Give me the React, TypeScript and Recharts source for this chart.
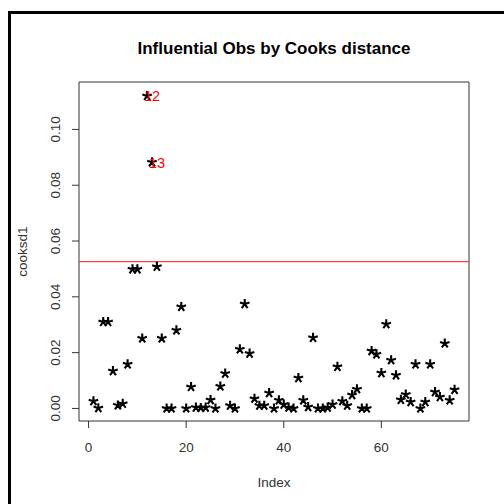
import React from "react";
import { ScatterChart, Scatter, XAxis, YAxis, ReferenceLine, ReferenceArea } from "recharts";

const cooksd: number[] = [
  0.0026, 0.0001, 0.031, 0.031, 0.0134, 0.0011, 0.0017, 0.0158, 0.0499, 0.0499,
  0.0251, 0.112, 0.0882, 0.0508, 0.0251, 0.0, 0.0, 0.028, 0.0364, 0.0,
  0.0077, 0.0003, 0.0002, 0.0003, 0.003, 0.0, 0.0079, 0.0125, 0.001, 0.0,
  0.0212, 0.0374, 0.0197, 0.0035, 0.001, 0.001, 0.0055, 0.0, 0.0029, 0.0014,
  0.0003, 0.0, 0.0109, 0.0029, 0.0005, 0.0253, 0.0, 0.0, 0.0003, 0.0014,
  0.0149, 0.0026, 0.001, 0.0048, 0.0069, 0.0, 0.0, 0.0206, 0.0194, 0.0127,
  0.0302, 0.0173, 0.0119, 0.0031, 0.005, 0.0023, 0.0158, 0.0, 0.0023, 0.0158,
  0.0059, 0.0041, 0.0233, 0.0029, 0.0067,
];
const indices: number[] = cooksd.map((_, i) => i + 1);
const threshold = 0.0526;
const labeledIdx: number[] = [12, 13];
const xTicks: number[] = [0, 20, 40, 60];
const yTicks: number[] = [0, 0.02, 0.04, 0.06, 0.08, 0.1];
const xDomain: [number, number] = [-1.96, 77.96];
const yDomain: [number, number] = [-0.0045, 0.117];

const points = cooksd.map((v, i) => ({ idx: indices[i], v }));
const labelPoints = labeledIdx.map((i) => ({ idx: i + 1, v: cooksd[i - 1], text: String(i) }));

const FONT = "'Liberation Sans', Arial, sans-serif";
const AX = "#333";

const Star = (props: any) => {
  const { cx, cy } = props;
  if (cx == null || cy == null) return null;
  let d = "";
  for (let k = 0; k < 5; k++) {
    const a = ((-90 + 72 * k) * Math.PI) / 180;
    d += `M${cx},${cy}L${cx + 5 * Math.cos(a)},${cy + 5 * Math.sin(a)}`;
  }
  return <path d={d} stroke="#000" strokeWidth={2.1} fill="none" />;
};

const RedLabel = (props: any) => {
  const { cx, cy, payload } = props;
  if (cx == null || cy == null) return null;
  return (
    <text x={cx} y={cy} dy="0.36em" textAnchor="middle" fill="#ff0000" fontSize={14.5} fontFamily={FONT}>
      {payload.text}
    </text>
  );
};

const RedLine = (props: any) => {
  const { x1, y1, x2, y2 } = props;
  if (x1 == null) return null;
  return <line x1={x1} y1={y1} x2={x2} y2={y2} stroke="#ff4040" strokeWidth={1.2} fill="none" />;
};

const YTick = (props: any) => {
  const { x, y, payload } = props;
  return (
    <text x={x} y={y} transform={`rotate(-90, ${x}, ${y})`} textAnchor="middle" fill={AX} fontSize={13.5} fontFamily={FONT}>
      {Number(payload.value).toFixed(2)}
    </text>
  );
};

const XTick = (props: any) => {
  const { x, y, payload } = props;
  return (
    <text x={x} y={y} dy="0.71em" textAnchor="middle" fill={AX} fontSize={13.5} fontFamily={FONT}>
      {payload.value}
    </text>
  );
};

export default function App() {
  return (
    <div style={{ position: "absolute", left: 0, top: 0, width: 504, height: 504, background: "#fff", overflow: "hidden" }}>
      <div style={{ position: "absolute", left: 8, top: 11, right: -10, bottom: -10, borderTop: "3px solid #000", borderLeft: "3px solid #000" }} />
      <div
        style={{
          position: "absolute",
          left: 79,
          width: 390,
          top: 40,
          lineHeight: "17px",
          fontSize: 17,
          fontWeight: "bold",
          fontFamily: FONT,
          textAlign: "center",
          color: "#000",
        }}
      >
        Influential Obs by Cooks distance
      </div>
      <div style={{ position: "absolute", left: 0, top: 0 }}>
        <ScatterChart width={504} height={504} margin={{ top: 82, right: 35, bottom: 0, left: 0 }}>
          <XAxis
            type="number"
            dataKey="idx"
            domain={xDomain}
            ticks={xTicks}
            allowDataOverflow
            axisLine={false}
            tickSize={7}
            tickMargin={14}
            tickLine={{ stroke: AX }}
            tick={<XTick />}
            height={83}
            label={(p: any) => {
              const vb = p.viewBox || {};
              return (
                <text x={vb.x + vb.width / 2} y={vb.y + 65.5} textAnchor="middle" fill={AX} fontSize={13.5} fontFamily={FONT}>
                  Index
                </text>
              );
            }}
          />
          <YAxis
            type="number"
            dataKey="v"
            domain={yDomain}
            ticks={yTicks}
            allowDataOverflow
            axisLine={false}
            width={79}
            tickSize={7}
            tickMargin={12}
            tickLine={{ stroke: AX }}
            tick={<YTick />}
            label={(p: any) => {
              const vb = p.viewBox || {};
              const cy = vb.y + vb.height / 2;
              return (
                <text x={27} y={cy} transform={`rotate(-90, 27, ${cy})`} textAnchor="middle" fill={AX} fontSize={13.5} fontFamily={FONT}>
                  cooksd1
                </text>
              );
            }}
          />
          <ReferenceArea x1={xDomain[0]} x2={xDomain[1]} y1={yDomain[0]} y2={yDomain[1]} fill="none" stroke={AX} strokeWidth={1} ifOverflow="visible" />
          <Scatter data={points} shape={<Star />} isAnimationActive={false} />
          <ReferenceLine y={threshold} shape={RedLine} />
          <Scatter data={labelPoints} shape={<RedLabel />} isAnimationActive={false} />
        </ScatterChart>
      </div>
    </div>
  );
}
